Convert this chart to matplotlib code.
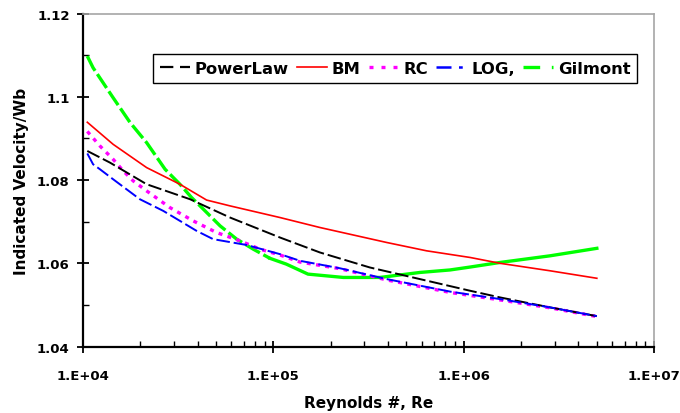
import math
import matplotlib
matplotlib.use("Agg")
import matplotlib.pyplot as plt
from matplotlib.lines import Line2D
from matplotlib.ticker import FixedLocator, FuncFormatter, NullFormatter, LogLocator

plt.rcParams['font.family'] = ['DejaVu Sans']
plt.rcParams['font.weight'] = 'bold'

# ---- data ----
re_power = [1.054e4, 1.386e4, 2.16e4, 3.65e4, 5.92e4, 1.083e5, 1.757e5, 3.21e5, 5.89e5, 1.08e6, 1.55e6, 2.84e6, 5.0e6]
v_power = [1.0870, 1.0842, 1.0790, 1.0754, 1.0710, 1.0662, 1.0626, 1.0590, 1.0562, 1.0534, 1.0518, 1.0494, 1.0473]

re_bm = [1.054e4, 1.44e4, 2.16e4, 3.23e4, 4.46e4, 5.92e4, 1.083e5, 1.757e5, 3.94e5, 6.38e5, 1.08e6, 1.55e6, 2.84e6, 5.0e6]
v_bm = [1.0939, 1.0886, 1.0830, 1.0790, 1.0752, 1.0738, 1.0710, 1.0686, 1.0650, 1.0630, 1.0614, 1.0600, 1.0582, 1.0564]

re_rc = [1.054e4, 1.228e4, 1.44e4, 1.628e4, 1.837e4, 2.16e4, 2.486e4, 2.86e4, 3.79e4, 5.03e4, 6.68e4, 8.5e4,
         1.083e5, 1.38e5, 2.24e5, 3.94e5, 8.47e5, 1.55e6, 2.84e6, 5.0e6]
v_rc = [1.0917, 1.0882, 1.0850, 1.0822, 1.0798, 1.0774, 1.0754, 1.0734, 1.0702, 1.0674, 1.0654, 1.0634,
        1.0620, 1.0603, 1.0587, 1.0560, 1.0530, 1.0512, 1.0493, 1.0472]

re_log = [1.054e4, 1.13e4, 1.228e4, 1.44e4, 1.99e4, 2.64e4, 3.95e4, 4.83e4, 7.24e4, 1.083e5, 1.38e5, 2.24e5,
          3.94e5, 8.47e5, 1.55e6, 2.84e6, 5.0e6]
v_log = [1.0864, 1.0838, 1.0826, 1.0802, 1.0754, 1.0726, 1.0678, 1.0658, 1.0644, 1.0622, 1.0606, 1.0588,
         1.0562, 1.0532, 1.0514, 1.0494, 1.0473]

re_gil = [1.054e4, 1.13e4, 1.44e4, 1.77e4, 2.16e4, 2.70e4, 3.23e4, 3.72e4, 4.29e4, 5.25e4, 6.42e4, 7.84e4,
          9.59e4, 1.17e5, 1.52e5, 2.33e5, 3.63e5, 5.89e5, 8.47e5, 1.08e6, 1.55e6, 2.84e6, 5.0e6]
v_gil = [1.1098, 1.1070, 1.0998, 1.0938, 1.0890, 1.0826, 1.0790, 1.0758, 1.0730, 1.0690, 1.0658, 1.0634,
         1.0612, 1.0598, 1.0574, 1.0566, 1.0566, 1.0578, 1.0584, 1.0591, 1.0602, 1.0618, 1.0636]

labels = ['PowerLaw', 'BM', 'RC', 'LOG,', 'Gilmont']
y_ticks = [1.04, 1.06, 1.08, 1.10, 1.12]
x_ticks = [1e4, 1e5, 1e6, 1e7]

# ---- figure ----
fig = plt.figure(figsize=(6.8, 4.14), dpi=100)
ax = fig.add_axes([0.122, 0.1606, 0.840, 0.804])

split = 12  # green line: dashed steep part, solid afterwards
ax.plot(re_gil[:split + 1], v_gil[:split + 1], color='#00FF00', lw=2.4, dashes=(5, 1.2), zorder=3)
ax.plot(re_gil[split:], v_gil[split:], color='#00FF00', lw=2.4, zorder=3)
ax.plot(re_bm, v_bm, color='#FF0000', lw=1.2, zorder=4)
ax.plot(re_power, v_power, color='black', lw=1.4, dashes=(7, 2), zorder=5)
ax.plot(re_rc, v_rc, color='#FF00FF', lw=2.4, dashes=(1.2, 1.6), zorder=4)
ax.plot(re_log, v_log, color='#0000FF', lw=1.4, dashes=(7, 2), zorder=6)

ax.set_xscale('log')
ax.set_xlim(1e4, 1e7)
ax.set_ylim(1.04, 1.12)

ax.xaxis.set_major_locator(FixedLocator(x_ticks))
ax.xaxis.set_minor_locator(LogLocator(base=10, subs=range(2, 10)))
ax.xaxis.set_minor_formatter(NullFormatter())
ax.xaxis.set_major_formatter(FuncFormatter(lambda v, p: '1.E+%02d' % round(math.log10(v))))
ax.yaxis.set_major_locator(FixedLocator(y_ticks))
ax.yaxis.set_minor_locator(FixedLocator([1.05, 1.07, 1.09, 1.11]))
ax.yaxis.set_major_formatter(FuncFormatter(lambda v, p: ('%.2f' % v).rstrip('0').rstrip('.')))

ax.tick_params(which='major', direction='inout', length=9, width=1.3, labelsize=9.5, pad=5)
ax.tick_params(which='minor', direction='in', length=4, width=1.0)
ax.tick_params(axis='x', which='major', pad=12)

for s in ['left', 'bottom']:
    ax.spines[s].set_color('black')
    ax.spines[s].set_linewidth(1.6)
for s in ['top', 'right']:
    ax.spines[s].set_color('#A6A6A6')
    ax.spines[s].set_linewidth(1.2)

ax.set_xlabel('Reynolds #, Re', fontsize=11, fontweight='bold', labelpad=9)
ax.set_ylabel('Indicated Velocity/Wb', fontsize=11, fontweight='bold', labelpad=6)

handles = [
    Line2D([], [], color='black', lw=1.6, dashes=(6, 3)),
    Line2D([], [], color='#FF0000', lw=1.2),
    Line2D([], [], color='#FF00FF', lw=2.4, dashes=(1.2, 2.4)),
    Line2D([], [], color='#0000FF', lw=1.8, dashes=(6, 3, 1.5, 3, 1.5, 3)),
    Line2D([], [], color='#00FF00', lw=2.4, dashes=(5, 3.5, 1.5, 3.5)),
]
leg = ax.legend(handles, labels, ncol=5, loc='upper left', bbox_to_anchor=(0.1226, 0.878),
                frameon=True, fancybox=False, edgecolor='black', framealpha=1,
                prop={'weight': 'bold', 'size': 11.8}, handlelength=1.83, handletextpad=0.3,
                columnspacing=0.49, borderpad=0.42, borderaxespad=0)
leg.get_frame().set_linewidth(1.0)

fig.savefig('out.png', dpi=100)
